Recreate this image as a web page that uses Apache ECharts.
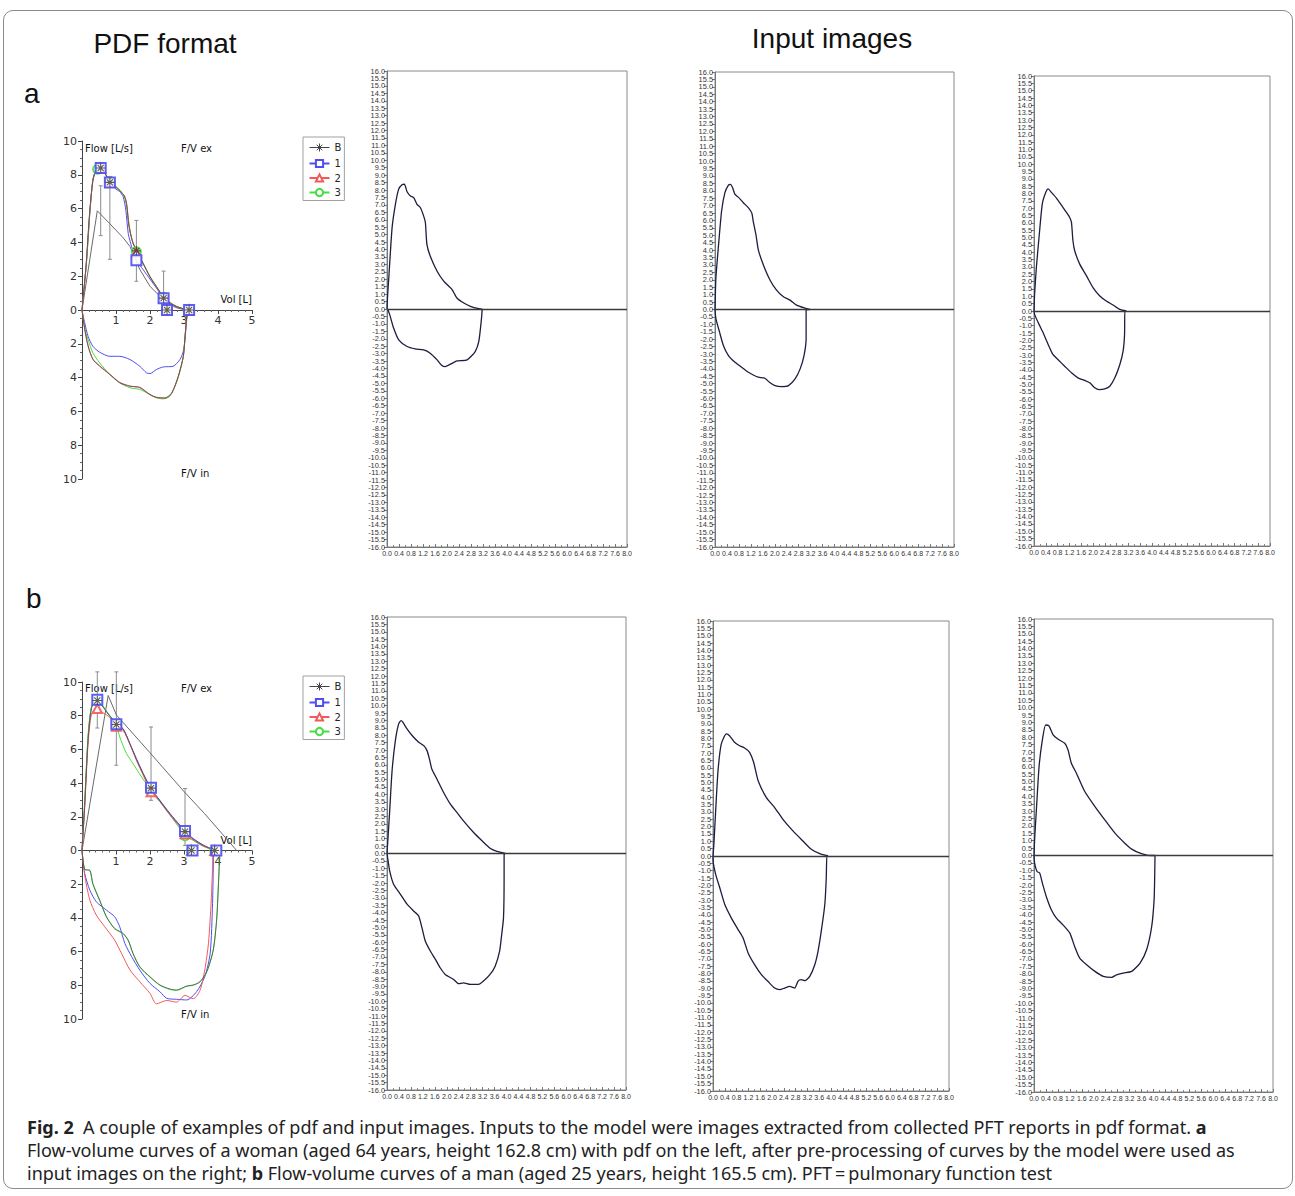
<!DOCTYPE html>
<html>
<head>
    <meta charset="utf-8">
    <title>Fig. 2 - PDF and input images</title>
    <script src="https://cdn.jsdelivr.net/npm/echarts@6/dist/echarts.min.js"></script>
    <style>
        html, body { margin: 0; padding: 0; background: #fff; }
        #page { position: relative; width: 1295px; height: 1196px; overflow: hidden; }
        #frame { position: absolute; left: 3px; top: 10px; width: 1288px; height: 1177px;
                 border: 1px solid #8a8a8a; border-radius: 10px; }
        #chart { position: absolute; left: 0; top: 0; width: 1295px; height: 1196px; }
        #caption { position: absolute; left: 27px; top: 1116px; font-family: "Noto Sans", sans-serif;
                   font-size: 18px; line-height: 23px; color: #222; white-space: nowrap; }
        #caption b { font-weight: 700; }
    </style>
</head>
<body>
<div id="page">
    <div id="frame"></div>
    <div id="chart"></div>
    <div id="caption">
        <b>Fig. 2</b>&nbsp; A couple of examples of pdf and input images. Inputs to the model were images extracted from collected PFT reports in pdf format. <b>a</b><br>
        Flow-volume curves of a woman (aged 64 years, height 162.8 cm) with pdf on the left, after pre-processing of curves by the model were used as<br>
        input images on the right; <b>b</b> Flow-volume curves of a man (aged 25 years, height 165.5 cm). PFT&thinsp;=&thinsp;pulmonary function test
    </div>
</div>

<script type="text/javascript">
    // ---------- PDF format, a (woman) : [volume L, flow L/s] ----------
    var aExB = [[0,0],[0.12,2.65],[0.22,5.65],[0.32,7.66],[0.42,8.31],[0.52,8.42],[0.67,8.1],[0.82,7.57],[1.0,7.28],[1.15,6.98],[1.24,6.78],[1.31,6.3],[1.37,5.1],[1.47,4.15],[1.61,3.45],[1.8,2.75],[2.0,1.97],[2.19,1.38],[2.39,0.79],[2.59,0.43],[2.78,0.21],[2.98,0.07],[3.1,0]];
    var aEx1 = [[0,0],[0.13,2.78],[0.23,5.73],[0.32,7.7],[0.42,8.33],[0.52,8.45],[0.67,8.13],[0.82,7.6],[0.97,7.2],[1.11,7.0],[1.21,6.71],[1.29,5.9],[1.36,4.53],[1.46,3.74],[1.6,2.97],[1.8,2.38],[2.0,1.83],[2.19,1.3],[2.39,0.71],[2.59,0.37],[2.78,0.18],[2.98,0.06],[3.08,0]];
    var aEx2 = [[0,0],[0.12,2.6],[0.22,5.6],[0.32,7.65],[0.42,8.3],[0.52,8.42],[0.67,8.1],[0.82,7.58],[1.0,7.25],[1.15,6.95],[1.25,6.75],[1.32,6.2],[1.38,5.0],[1.48,4.1],[1.62,3.42],[1.8,2.72],[2.0,1.95],[2.19,1.36],[2.39,0.78],[2.59,0.42],[2.78,0.2],[2.98,0.07],[3.1,0]];
    var aEx3 = [[0,0],[0.13,2.78],[0.23,5.73],[0.32,7.7],[0.42,8.33],[0.52,8.43],[0.67,8.09],[0.82,7.6],[1.01,7.3],[1.16,7.0],[1.26,6.6],[1.33,5.9],[1.41,4.74],[1.5,3.96],[1.62,3.46],[1.8,2.78],[2.0,1.99],[2.19,1.4],[2.39,0.8],[2.59,0.45],[2.78,0.22],[2.98,0.08],[3.08,0]];
    var aInB = [[0,0],[0.08,-1.16],[0.18,-2.15],[0.32,-2.93],[0.52,-3.33],[0.82,-3.82],[1.11,-4.31],[1.41,-4.51],[1.7,-4.57],[2.0,-5.0],[2.19,-5.16],[2.44,-5.2],[2.64,-4.9],[2.83,-3.92],[2.98,-2.74],[3.03,-1.56],[3.08,-0.37],[3.1,0]];
    var aIn1 = [[0,0],[0.08,-0.77],[0.18,-1.56],[0.32,-2.15],[0.52,-2.5],[0.82,-2.74],[1.11,-2.74],[1.41,-2.93],[1.7,-3.33],[1.9,-3.72],[2.0,-3.76],[2.19,-3.52],[2.39,-3.37],[2.68,-3.33],[2.88,-2.93],[2.98,-2.44],[3.03,-1.75],[3.08,-0.57],[3.13,0]];
    var aIn2 = [[0,0],[0.08,-1.1],[0.18,-2.1],[0.32,-2.9],[0.52,-3.3],[0.82,-3.8],[1.11,-4.28],[1.41,-4.5],[1.7,-4.6],[2.0,-5.02],[2.19,-5.18],[2.44,-5.22],[2.64,-4.92],[2.83,-3.95],[2.98,-2.76],[3.03,-1.58],[3.08,-0.38],[3.1,0]];
    var aIn3 = [[0,0],[0.08,-1.06],[0.18,-1.75],[0.32,-2.54],[0.52,-3.13],[0.82,-3.82],[1.11,-4.31],[1.41,-4.6],[1.7,-4.7],[2.0,-5.0],[2.19,-5.2],[2.39,-5.26],[2.59,-5.1],[2.83,-4.0],[2.98,-2.74],[3.03,-1.56],[3.08,-0.37],[3.1,0]];
    var aPred = [[0,0],[0.45,5.87],[0.82,5.1],[1.2,4.3],[1.41,3.76],[1.7,2.4],[2.0,1.4],[2.39,0.61],[2.75,0.15],[3.05,0]];
    var aPredErr = [[0.55,4.4,7.35],[0.82,3.0,7.9],[1.6,1.7,5.3],[2.4,0,2.3]];   // [vol, low, high]
    var aMkB = [[0.55,8.4],[0.82,7.55],[1.6,3.5],[2.4,0.7],[2.5,0],[3.15,0]];
    var aMk1 = [[0.55,8.4],[0.82,7.55],[1.6,2.95],[2.4,0.7],[2.5,0],[3.15,0]];
    var aMk2 = [[0.55,8.4],[0.82,7.55],[1.6,3.4],[2.4,0.72],[2.5,0],[3.15,0]];
    var aMk3 = [[0.46,8.33],[0.82,7.6],[1.6,3.45],[2.4,0.75],[2.5,0],[3.12,0]];

    // ---------- PDF format, b (man) ----------
    var bExB = [[0,0],[0.08,2.7],[0.18,6.6],[0.28,8.45],[0.42,8.93],[0.52,8.78],[0.77,8.1],[1.01,7.5],[1.21,7.2],[1.41,6.32],[1.6,5.42],[1.8,4.55],[2.03,3.65],[2.29,2.95],[2.59,2.16],[2.88,1.46],[3.06,1.07],[3.27,0.68],[3.57,0.3],[3.86,0.05],[3.98,0]];
    var bEx1 = [[0,0],[0.08,2.79],[0.18,6.74],[0.28,8.52],[0.42,8.97],[0.52,8.81],[0.77,8.12],[1.01,7.53],[1.21,7.23],[1.41,6.34],[1.6,5.45],[1.8,4.57],[2.03,3.68],[2.29,2.98],[2.59,2.19],[2.88,1.5],[3.06,1.1],[3.27,0.71],[3.57,0.32],[3.86,0.06],[3.96,0]];
    var bEx2 = [[0,0],[0.08,2.6],[0.18,6.4],[0.28,8.1],[0.42,8.42],[0.6,8.2],[0.82,7.9],[1.01,7.43],[1.21,7.13],[1.41,6.3],[1.6,5.35],[1.8,4.47],[2.03,3.5],[2.29,2.9],[2.59,2.1],[2.88,1.4],[3.06,1.0],[3.27,0.62],[3.57,0.26],[3.86,0.04],[3.96,0]];
    var bEx3 = [[0,0],[0.08,3.0],[0.18,6.9],[0.28,8.52],[0.42,8.95],[0.57,8.7],[0.77,8.12],[1.01,7.43],[1.11,6.74],[1.31,5.75],[1.5,5.16],[1.75,4.37],[2.03,3.58],[2.29,2.9],[2.59,2.1],[2.88,1.3],[3.03,0.9],[3.27,0.6],[3.57,0.25],[3.86,0.04],[3.93,0]];
    var bInB = [[0,0],[0.08,-1.13],[0.23,-1.17],[0.32,-1.96],[0.52,-2.94],[0.72,-3.93],[0.96,-4.62],[1.21,-4.92],[1.36,-5.32],[1.5,-6.1],[1.7,-6.9],[2.0,-7.49],[2.29,-7.98],[2.59,-8.22],[2.78,-8.28],[3.08,-8.04],[3.27,-7.98],[3.47,-7.79],[3.67,-7.19],[3.86,-5.91],[3.96,-4.13],[4.01,-2.15],[4.06,0]];
    var bIn1 = [[0,0],[0.08,-1.36],[0.23,-2.35],[0.42,-3.04],[0.72,-3.54],[0.96,-3.93],[1.11,-4.53],[1.26,-5.51],[1.46,-6.3],[1.7,-7.1],[2.0,-7.89],[2.29,-8.38],[2.49,-8.77],[2.78,-8.83],[3.08,-8.87],[3.37,-8.38],[3.61,-7.49],[3.77,-6.1],[3.84,-3.14],[3.86,-1.17],[3.88,0]];
    var bIn2 = [[0,0],[0.08,-1.46],[0.23,-2.94],[0.42,-3.83],[0.67,-4.53],[0.96,-5.32],[1.16,-6.1],[1.41,-7.09],[1.7,-7.79],[2.0,-8.48],[2.19,-9.1],[2.49,-8.9],[2.78,-9.0],[3.03,-8.6],[3.27,-8.8],[3.47,-8.3],[3.61,-7.1],[3.72,-5.5],[3.8,-3.0],[3.84,-1.0],[3.86,0]];
    var bIn3 = [[0,0],[0.08,-1.1],[0.23,-1.2],[0.32,-2.0],[0.52,-2.98],[0.72,-3.95],[0.96,-4.65],[1.21,-4.95],[1.36,-5.35],[1.5,-6.12],[1.7,-6.92],[2.0,-7.52],[2.29,-8.0],[2.59,-8.25],[2.78,-8.3],[3.08,-8.06],[3.27,-8.0],[3.47,-7.8],[3.67,-7.2],[3.86,-5.9],[3.96,-4.1],[4.01,-2.1],[4.05,0]];
    var bPred = [[0,0],[0.77,9.2],[1.01,8.05],[2.0,5.8],[3.0,3.5],[3.6,2.2],[4.55,0]];
    var bPredErr = [[0.45,7.27,10.6],[1.01,5.06,10.6],[2.03,2.98,7.33],[3.03,0.3,3.68]];
    var bMkB = [[0.45,8.9],[1.01,7.48],[2.03,3.7],[3.03,1.12],[3.22,0],[3.9,0]];
    var bMk1 = [[0.45,8.95],[1.01,7.5],[2.03,3.72],[3.03,1.15],[3.25,0],[3.95,0]];
    var bMk2 = [[0.45,8.42],[1.01,7.37],[2.03,3.48],[3.03,1.0],[3.22,0],[3.9,0]];
    var bMk3 = [[0.45,8.87],[1.01,7.45],[2.03,3.58],[3.03,0.87],[3.22,0],[3.9,0]];

    // ---------- Input images (exp: 0 -> FVC, insp: FVC -> 0) ----------
    var inA1Ex = [[0,0],[0.02,0.9],[0.06,2.1],[0.17,5.47],[0.28,7.04],[0.39,8.06],[0.5,8.35],[0.58,8.39],[0.67,7.88],[0.78,7.6],[0.89,7.49],[1.0,7.04],[1.11,6.82],[1.22,6.26],[1.28,5.8],[1.33,4.34],[1.44,3.56],[1.67,2.54],[1.89,1.87],[2.06,1.53],[2.17,1.31],[2.33,0.74],[2.56,0.4],[2.78,0.18],[3.06,0.02],[3.17,0]];
    var inA1In = [[3.14,-0.83],[3.06,-2.18],[2.94,-2.86],[2.67,-3.42],[2.33,-3.49],[2.17,-3.65],[1.94,-3.87],[1.83,-3.8],[1.67,-3.42],[1.44,-2.97],[1.22,-2.75],[0.94,-2.68],[0.67,-2.52],[0.39,-2.07],[0.22,-1.28],[0.09,-0.38],[0.02,0]];
    var inA2Ex = [[0,0],[0.03,2.1],[0.11,4.14],[0.22,6.62],[0.33,7.86],[0.45,8.38],[0.52,8.43],[0.59,8.2],[0.67,7.75],[0.78,7.57],[0.95,7.19],[1.12,6.85],[1.23,6.51],[1.28,5.94],[1.37,5.04],[1.45,4.02],[1.62,3.0],[1.84,1.99],[2.06,1.31],[2.29,0.86],[2.51,0.63],[2.73,0.29],[3.01,0.09],[3.18,0]];
    var inA2In = [[3.05,0],[3.05,-1.97],[2.98,-3.1],[2.85,-4.0],[2.68,-4.68],[2.46,-5.13],[2.23,-5.2],[2.01,-5.13],[1.82,-4.9],[1.67,-4.63],[1.45,-4.56],[1.28,-4.41],[1.12,-4.23],[0.89,-3.89],[0.67,-3.55],[0.45,-3.1],[0.28,-2.42],[0.15,-1.51],[0.03,-0.61],[0,0]];
    var inA3Ex = [[0,0],[0.02,1.14],[0.08,2.96],[0.17,5.0],[0.28,7.28],[0.4,8.08],[0.48,8.31],[0.59,8.08],[0.76,7.69],[0.98,7.06],[1.1,6.71],[1.21,6.37],[1.27,6.03],[1.32,4.78],[1.38,4.1],[1.55,3.19],[1.78,2.39],[2.0,1.59],[2.23,1.02],[2.45,0.68],[2.68,0.41],[2.91,0.11],[3.13,0]];
    var inA3In = [[3.08,0],[3.07,-1.59],[3.02,-2.73],[2.91,-3.64],[2.74,-4.55],[2.57,-5.12],[2.4,-5.3],[2.21,-5.35],[2.06,-5.23],[1.89,-4.89],[1.72,-4.73],[1.49,-4.55],[1.27,-4.21],[1.04,-3.76],[0.81,-3.3],[0.64,-2.96],[0.48,-2.28],[0.31,-1.48],[0.17,-0.91],[0.02,-0.23],[0,0]];
    var inB1Ex = [[0,0],[0.02,0.63],[0.09,2.89],[0.17,5.6],[0.28,7.64],[0.39,8.77],[0.47,8.99],[0.53,8.88],[0.67,8.43],[0.84,7.98],[1.06,7.53],[1.23,7.3],[1.34,6.96],[1.42,6.4],[1.5,5.72],[1.67,5.04],[1.89,4.14],[2.12,3.34],[2.34,2.78],[2.56,2.21],[2.9,1.42],[3.18,0.86],[3.45,0.36],[3.68,0.14],[3.96,0]];
    var inB1In = [[3.92,0],[3.92,-1.63],[3.9,-4.34],[3.84,-5.47],[3.77,-6.6],[3.62,-7.62],[3.45,-8.18],[3.23,-8.63],[3.06,-8.86],[2.79,-8.86],[2.56,-8.75],[2.4,-8.81],[2.23,-8.52],[1.95,-8.18],[1.78,-7.73],[1.62,-7.16],[1.45,-6.6],[1.28,-5.92],[1.17,-5.02],[1.06,-4.23],[0.89,-3.89],[0.67,-3.43],[0.45,-2.76],[0.22,-2.08],[0.09,-1.18],[0.02,-0.27],[0,0]];
    var inB2Ex = [[0,0],[0.03,0.8],[0.09,3.07],[0.17,5.8],[0.28,7.62],[0.45,8.31],[0.56,8.19],[0.73,7.74],[0.9,7.51],[1.07,7.35],[1.24,7.06],[1.38,6.37],[1.53,5.12],[1.81,3.98],[2.09,3.3],[2.37,2.5],[2.71,1.71],[3.05,1.02],[3.33,0.46],[3.62,0.16],[3.9,0]];
    var inB2In = [[3.86,0],[3.84,-1.48],[3.79,-3.3],[3.67,-5.12],[3.56,-6.49],[3.45,-7.4],[3.28,-8.19],[3.11,-8.49],[2.99,-8.42],[2.88,-8.53],[2.77,-8.99],[2.6,-8.88],[2.43,-8.99],[2.26,-9.1],[2.09,-8.99],[1.86,-8.53],[1.64,-8.08],[1.41,-7.4],[1.19,-6.6],[1.02,-5.58],[0.85,-5.01],[0.62,-4.21],[0.4,-3.3],[0.23,-2.16],[0.09,-1.25],[0,-0.23],[0,0]];
    var inB3Ex = [[0,0],[0.02,1.06],[0.08,3.09],[0.17,6.02],[0.28,7.82],[0.39,8.83],[0.5,8.77],[0.64,8.16],[0.81,7.86],[1.03,7.59],[1.14,7.14],[1.25,6.24],[1.42,5.57],[1.7,4.33],[2.04,3.31],[2.37,2.41],[2.71,1.51],[3.04,0.83],[3.27,0.43],[3.55,0.16],[3.88,0]];
    var inB3In = [[4.05,0],[4.04,-1.42],[4.02,-3.0],[3.94,-4.8],[3.77,-6.38],[3.55,-7.28],[3.27,-7.84],[2.99,-7.95],[2.76,-8.07],[2.6,-8.25],[2.32,-8.18],[2.04,-7.84],[1.76,-7.39],[1.53,-6.94],[1.36,-6.15],[1.2,-5.25],[0.97,-4.69],[0.75,-4.24],[0.58,-3.67],[0.41,-2.77],[0.28,-1.87],[0.19,-1.19],[0.1,-1.08],[0.02,-0.52],[0,0]];

    var legendNames = ['B', '1', '2', '3'];
    var pdfVolRange = [0, 5], pdfFlowRange = [-10, 10];
    var inVolRange = [0, 8], inFlowRange = [-16, 16];

    var lineColor = {B: '#4a4a4a', '1': '#4e4ef2', '2': '#f25a5a', '3': '#44dd44'};
    var asterisk = 'path://M5 0L5 10M0 5L10 5M1.6 1.6L8.4 8.4M8.4 1.6L1.6 8.4';
    // legend icon for B: line with an asterisk in the middle
    var asteriskLegend = 'path://M0 4.5L20 4.5M10 0.5L10 8.5M6 4.5L14 4.5M7.2 1.7L12.8 7.3M12.8 1.7L7.2 7.3';
    var markSymbol = {B: asterisk, '1': 'emptyRect', '2': 'emptyTriangle', '3': 'emptyCircle'};
    var PDF_FONT = 'DejaVu Sans';
    var IMG_FONT = 'Liberation Sans';

    var myChart = echarts.init(document.getElementById('chart'), null, {renderer: 'svg'});

    var grids = [
        {left: 82, top: 141, width: 170, height: 338},
        {left: 82, top: 682, width: 170, height: 337},
        {left: 387, top: 71, width: 240, height: 476},
        {left: 715, top: 72, width: 239, height: 475},
        {left: 1034, top: 76, width: 236, height: 470},
        {left: 387, top: 617, width: 239, height: 473},
        {left: 713, top: 621, width: 236, height: 470},
        {left: 1034, top: 619, width: 239, height: 473}
    ];
    grids.forEach(function (g, i) {
        g.containLabel = false;
        g.outerBoundsMode = 'none';
        if (i >= 2) { g.show = true; g.borderColor = '#8a8a8a'; g.borderWidth = 1; g.backgroundColor = 'transparent'; }
    });

    var xAxes = [], yAxes = [];
    // PDF style axes; the volume axis sits on flow = 0 (middle of the grid)
    [0, 1].forEach(function (i) {
        xAxes.push({
            gridIndex: i, type: 'value', min: pdfVolRange[0], max: pdfVolRange[1], interval: 1,
            offset: -grids[i].height / 2,
            axisLine: {onZero: false, lineStyle: {color: '#444', width: 1}},
            axisTick: {show: true, length: 4, lineStyle: {color: '#444'}},
            minorTick: {show: true, splitNumber: 5, length: 2, lineStyle: {color: '#666'}},
            splitLine: {show: false},
            axisLabel: {fontFamily: PDF_FONT, fontSize: 11, color: '#333', margin: 5,
                formatter: function (v) { return v === 0 ? '' : v; }}
        });
        yAxes.push({
            gridIndex: i, type: 'value', min: pdfFlowRange[0], max: pdfFlowRange[1], interval: 2,
            axisLine: {show: true, lineStyle: {color: '#444', width: 1}},
            axisTick: {show: true, length: 4, lineStyle: {color: '#444'}},
            minorTick: {show: true, splitNumber: 4, length: 2, lineStyle: {color: '#666'}},
            splitLine: {show: false},
            axisLabel: {fontFamily: PDF_FONT, fontSize: 11, color: '#333', margin: 5,
                formatter: function (v) { return Math.abs(v); }}
        });
    });
    // input image axes
    [2, 3, 4, 5, 6, 7].forEach(function (i) {
        xAxes.push({
            gridIndex: i, type: 'value', min: inVolRange[0], max: inVolRange[1], interval: 0.4,
            axisLine: {onZero: false, lineStyle: {color: '#777'}},
            axisTick: {show: true, inside: true, length: 3, lineStyle: {color: '#777'}},
            minorTick: {show: true, splitNumber: 2, length: 2, lineStyle: {color: '#888'}},
            splitLine: {show: false},
            axisLabel: {fontFamily: IMG_FONT, fontSize: 7, color: '#333', margin: 3, hideOverlap: false,
                showMinLabel: true, showMaxLabel: true,
                formatter: function (v) { return v.toFixed(1); }}
        });
        yAxes.push({
            gridIndex: i, type: 'value', min: inFlowRange[0], max: inFlowRange[1], interval: 0.5,
            axisLine: {onZero: false, lineStyle: {color: '#777'}},
            axisTick: {show: true, length: 3, lineStyle: {color: '#777'}},
            splitLine: {show: false},
            axisLabel: {fontFamily: IMG_FONT, fontSize: 7.4, color: '#333', margin: 2, hideOverlap: false,
                showMinLabel: true, showMaxLabel: true,
                formatter: function (v) { return v.toFixed(1); }}
        });
    });

    var series = [];

    function loopPdf(ex, insp) { return ex.concat(insp.slice().reverse()); }

    function addPdf(gi, curves, pred, predErr, marks) {
        series.push({
            name: 'pred' + gi, type: 'line', xAxisIndex: gi, yAxisIndex: gi, data: pred,
            showSymbol: false, lineStyle: {color: '#6a6a6a', width: 1}, z: 2, silent: true
        });
        series.push({
            name: 'predErr' + gi, type: 'custom', xAxisIndex: gi, yAxisIndex: gi, data: predErr, z: 2, silent: true,
            renderItem: function (params, api) {
                var x = api.value(0);
                var lo = api.coord([x, api.value(1)]);
                var hi = api.coord([x, api.value(2)]);
                var st = {stroke: '#8c8c8c', lineWidth: 1};
                return {type: 'group', children: [
                    {type: 'line', shape: {x1: lo[0], y1: lo[1], x2: hi[0], y2: hi[1]}, style: st},
                    {type: 'line', shape: {x1: lo[0] - 2, y1: lo[1], x2: lo[0] + 2, y2: lo[1]}, style: st},
                    {type: 'line', shape: {x1: hi[0] - 2, y1: hi[1], x2: hi[0] + 2, y2: hi[1]}, style: st}
                ]};
            }
        });
        // loops: blue first, then green, red, B on top
        ['1', '3', '2', 'B'].forEach(function (k) {
            series.push({
                name: k, type: 'line', xAxisIndex: gi, yAxisIndex: gi,
                data: loopPdf(curves[k][0], curves[k][1]),
                smooth: 0.25, showSymbol: false, symbol: markSymbol[k], symbolSize: 8,
                itemStyle: {color: lineColor[k], borderColor: lineColor[k], borderWidth: 1},
                lineStyle: {color: lineColor[k], width: 1, opacity: k === 'B' ? 0.75 : 1},
                z: 3, silent: true
            });
        });
        ['3', '2', '1', 'B'].forEach(function (k) {
            series.push({
                name: k, type: 'scatter', xAxisIndex: gi, yAxisIndex: gi, data: marks[k],
                symbol: markSymbol[k], symbolSize: k === '1' ? 10 : 9,
                itemStyle: k === 'B'
                    ? {color: 'none', borderColor: '#333', borderWidth: 1.1}
                    : {color: lineColor[k], borderColor: lineColor[k], borderWidth: 1, opacity: 0.9},
                z: 4, silent: true
            });
        });
    }

    addPdf(0, {B: [aExB, aInB], '1': [aEx1, aIn1], '2': [aEx2, aIn2], '3': [aEx3, aIn3]},
        aPred, aPredErr, {B: aMkB, '1': aMk1, '2': aMk2, '3': aMk3});
    addPdf(1, {B: [bExB, bInB], '1': [bEx1, bIn1], '2': [bEx2, bIn2], '3': [bEx3, bIn3]},
        bPred, bPredErr, {B: bMkB, '1': bMk1, '2': bMk2, '3': bMk3});

    var inputLoops = [[inA1Ex, inA1In], [inA2Ex, inA2In], [inA3Ex, inA3In], [inB1Ex, inB1In], [inB2Ex, inB2In], [inB3Ex, inB3In]];
    inputLoops.forEach(function (lp, j) {
        var gi = j + 2;
        series.push({
            name: 'input' + j, type: 'line', xAxisIndex: gi, yAxisIndex: gi,
            data: lp[0].concat(lp[1]), smooth: 0.2, showSymbol: false, silent: true,
            lineStyle: {color: '#1d1d3f', width: 1.3},
            markLine: {silent: true, symbol: 'none', label: {show: false},
                lineStyle: {color: '#3a3a3a', width: 1.3, type: 'solid'}, data: [{yAxis: 0}]}
        });
    });

    function legendAt(top) {
        var items = legendNames.map(function (n) {
            if (n === 'B') {
                return {name: n, icon: asteriskLegend,
                    itemStyle: {color: 'none', borderColor: '#444', borderWidth: 1}};
            }
            return {name: n};
        });
        return {
            left: 303, top: top, orient: 'vertical', data: items, selectedMode: false,
            itemWidth: 20, itemHeight: 9, itemGap: 4.5, padding: [4, 3, 3, 4],
            borderColor: '#a0a0a0', borderWidth: 1, backgroundColor: '#fff',
            textStyle: {fontFamily: PDF_FONT, fontSize: 10, color: '#222'}
        };
    }

    function txt(x, y, text, font, align) {
        return {type: 'text', x: x, y: y, silent: true,
            style: {text: text, font: font, fill: '#111', textAlign: align || 'left', textVerticalAlign: 'middle'}};
    }
    var small = '10px "DejaVu Sans"';
    var big = '28px "Liberation Sans", Arial, sans-serif';

    myChart.setOption({
        backgroundColor: 'transparent',
        animation: false,
        grid: grids,
        xAxis: xAxes,
        yAxis: yAxes,
        legend: [legendAt(137), legendAt(676)],
        graphic: [
            txt(165, 43, 'PDF format', big, 'center'),
            txt(832, 38, 'Input images', big, 'center'),
            txt(24, 93, 'a', big),
            txt(26, 598, 'b', big),
            txt(85, 148, 'Flow [L/s]', small),
            txt(181, 148, 'F/V ex', small),
            txt(252, 299, 'Vol [L]', small, 'right'),
            txt(181, 473, 'F/V in', small),
            txt(85, 688, 'Flow [L/s]', small),
            txt(181, 688, 'F/V ex', small),
            txt(252, 840, 'Vol [L]', small, 'right'),
            txt(181, 1014, 'F/V in', small)
        ],
        series: series
    });
</script>
</body>
</html>
